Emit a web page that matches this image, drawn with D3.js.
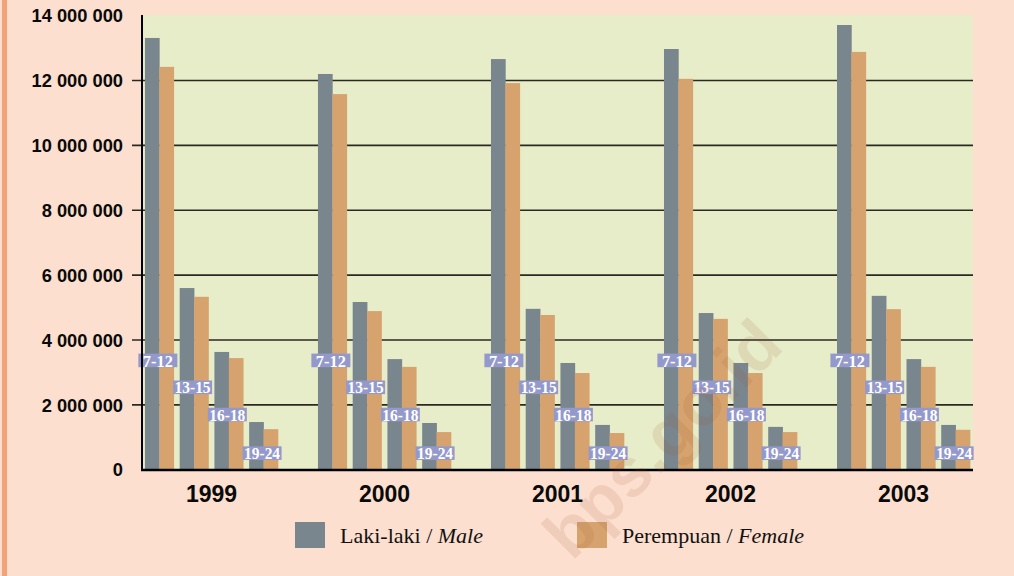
<!DOCTYPE html>
<html>
<head>
<meta charset="utf-8">
<script src="https://cdn.jsdelivr.net/npm/d3@7"></script>
<style>
  html, body { margin: 0; padding: 0; background: #fcdfcf; }
  svg { display: block; }
</style>
</head>
<body>
<svg id="chart" width="1014" height="576"></svg>
<script>
// ---- Data ----
const years = ["1999", "2000", "2001", "2002", "2003"];
const ageGroups = ["7-12", "13-15", "16-18", "19-24"];
const sexes = ["male", "female"];
const legendLabels = ["Laki-laki / ", "Perempuan / "];
const legendItalic = ["Male", "Female"];
// values in persons, [year][ageGroup]
const maleValues = [
  [13310000, 5600000, 3630000, 1470000],
  [12200000, 5170000, 3410000, 1440000],
  [12660000, 4960000, 3290000, 1380000],
  [12970000, 4830000, 3290000, 1320000],
  [13710000, 5360000, 3410000, 1380000]
];
const femaleValues = [
  [12420000, 5330000, 3440000, 1250000],
  [11580000, 4890000, 3170000, 1160000],
  [11920000, 4770000, 2980000, 1130000],
  [12050000, 4650000, 2980000, 1160000],
  [12880000, 4950000, 3170000, 1230000]
];
// vertical level (in axis units) where each age-group tag sits
const ageLabelLevels = [3370000, 2540000, 1700000, 510000];
const yTicks = [0, 2000000, 4000000, 6000000, 8000000, 10000000, 12000000, 14000000];
const watermark = "bps.go.id";

// ---- Layout ----
const svg = d3.select("#chart");
const W = 1014, H = 576;
const plot = { left: 142, right: 973, top: 15, bottom: 470 };
const colors = { male: "#7a868e", female: "#d6a36e" };

svg.append("rect").attr("width", W).attr("height", H).attr("fill", "#fcdfcf");
svg.append("rect").attr("x", 2).attr("y", 0).attr("width", 5).attr("height", H).attr("fill", "#f4a27a");

const y = d3.scaleLinear().domain([0, 14000000]).range([plot.bottom - 0.3, plot.top + 0.6]);
const x0 = d3.scaleBand().domain(years).range([plot.left, plot.right]).paddingInner(0.231).paddingOuter(0.017);
const x1 = d3.scaleBand().domain(ageGroups).range([0, x0.bandwidth()]).paddingInner(0.17).paddingOuter(0);
const x2 = d3.scaleBand().domain(sexes).range([0, x1.bandwidth()]);

// plot background
svg.append("rect")
  .attr("x", plot.left).attr("y", plot.top)
  .attr("width", plot.right - plot.left).attr("height", plot.bottom - plot.top)
  .attr("fill", "#e7ecc9");

// gridlines
svg.append("g").selectAll("line")
  .data(yTicks.filter(d => d > 0 && d < 14000000))
  .join("line")
  .attr("x1", plot.left - 10).attr("x2", plot.right)
  .attr("y1", d => y(d)).attr("y2", d => y(d))
  .attr("stroke", "#2a2a22").attr("stroke-width", 1.6);

// y axis labels
const yAxis = d3.axisLeft(y).tickValues(yTicks).tickSize(0).tickPadding(0)
  .tickFormat(d => d3.format(",")(d).replace(/,/g, " "));
const ya = svg.append("g").attr("transform", `translate(123,0)`).call(yAxis);
ya.select(".domain").remove();
ya.selectAll("text")
  .attr("font-family", "Liberation Sans, Arial, sans-serif")
  .attr("font-weight", "bold").attr("font-size", 18.3).attr("fill", "#0a0a0a")
  .attr("dy", "0.34em");

// bars
const rows = [];
years.forEach((yr, i) => {
  ageGroups.forEach((ag, j) => {
    rows.push({ year: yr, age: ag, sex: "male", value: maleValues[i][j] });
    rows.push({ year: yr, age: ag, sex: "female", value: femaleValues[i][j] });
  });
});
svg.append("g").selectAll("rect")
  .data(rows)
  .join("rect")
  .attr("x", d => x0(d.year) + x1(d.age) + x2(d.sex))
  .attr("width", x2.bandwidth() + 0.3)
  .attr("y", d => y(d.value))
  .attr("height", d => y(0) - y(d.value))
  .attr("fill", d => colors[d.sex]);

// age group tags
const tags = [];
years.forEach(yr => ageGroups.forEach((ag, j) => tags.push({ year: yr, age: ag, level: ageLabelLevels[j] })));
const tg = svg.append("g").selectAll("g").data(tags).join("g")
  .attr("transform", d => `translate(${x0(d.year) + x1(d.age) + x1.bandwidth() / 2 - 1.5},${y(d.level)})`);
tg.append("rect")
  .attr("x", -19.5).attr("y", -6.8).attr("width", 39).attr("height", 13.6)
  .attr("fill", "#9499cc");
tg.append("text")
  .attr("text-anchor", "middle").attr("dy", "0.36em")
  .attr("font-family", "Liberation Serif, Times New Roman, serif")
  .attr("font-weight", "bold").attr("font-size", 17).attr("fill", "#ffffff")
  .attr("textLength", d => d.age.length > 4 ? 36 : 30)
  .attr("lengthAdjust", "spacingAndGlyphs")
  .text(d => d.age);

// axes lines
svg.append("line").attr("x1", 142).attr("x2", 142).attr("y1", plot.top).attr("y2", plot.bottom + 1)
  .attr("stroke", "#000").attr("stroke-width", 2);
svg.append("line").attr("x1", 141).attr("x2", plot.right).attr("y1", plot.bottom).attr("y2", plot.bottom)
  .attr("stroke", "#000").attr("stroke-width", 2.6);

// x axis labels
const xAxis = d3.axisBottom(x0).tickSize(0).tickPadding(0);
const xa = svg.append("g").attr("transform", `translate(0,502)`).call(xAxis);
xa.select(".domain").remove();
xa.selectAll("text")
  .attr("dy", 0).attr("y", 0)
  .attr("font-family", "Liberation Sans, Arial, sans-serif")
  .attr("font-weight", "bold").attr("font-size", 23).attr("fill", "#0a0a0a");

// legend
const legendX = [295, 577];
const lg = svg.append("g").selectAll("g").data(sexes).join("g")
  .attr("transform", (d, i) => `translate(${legendX[i]},522)`);
lg.append("rect").attr("width", 30).attr("height", 26).attr("fill", d => colors[d]);
const lt = lg.append("text").attr("x", 45).attr("y", 21)
  .attr("font-family", "Liberation Serif, Times New Roman, serif")
  .attr("font-size", 22).attr("fill", "#111");
lt.append("tspan").text((d, i) => legendLabels[i]);
lt.append("tspan").attr("font-style", "italic").text((d, i) => legendItalic[i]);

// watermark
svg.append("text")
  .attr("transform", "translate(572,562) rotate(-45)")
  .attr("font-family", "Liberation Sans, Arial, sans-serif")
  .attr("font-weight", "bold").attr("font-size", 68)
  .attr("fill", "#a0522d").attr("fill-opacity", 0.12)
  .text(watermark);
</script>
</body>
</html>
